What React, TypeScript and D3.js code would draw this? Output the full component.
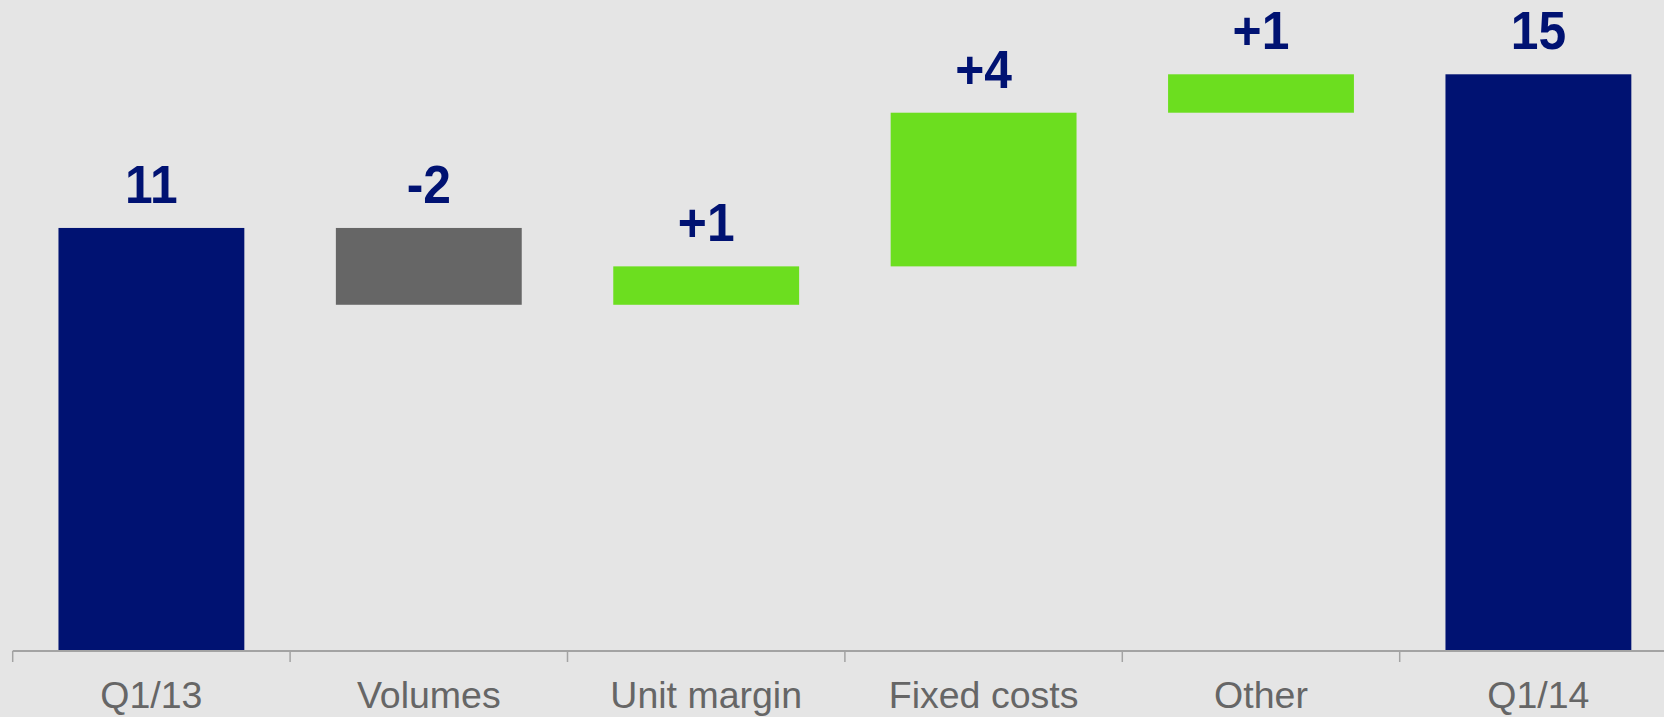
import React from "react";
import * as d3 from "d3";

const categories = ["Q1/13", "Volumes", "Unit margin", "Fixed costs", "Other", "Q1/14"];
const values = [11, -2, 1, 4, 1, 15];
const kinds = ["total", "delta", "delta", "delta", "delta", "total"];
const valueLabels = ["11", "-2", "+1", "+4", "+1", "15"];

const W = 1664;
const H = 717;
const NAVY = "#001272";
const GREEN = "#6CDE1F";
const GREY = "#666666";

export default function App() {
  const x = d3.scaleBand<string>().domain(categories).range([12.7, 1677.1]).padding(0);
  const y = d3.scaleLinear().domain([0, 15]).range([650.5, 74.3]);

  let running = 0;
  const bars = categories.map((c, i) => {
    let lo: number, hi: number;
    if (kinds[i] === "total") {
      lo = 0;
      hi = values[i];
      running = values[i];
    } else {
      const start = running;
      running = running + values[i];
      lo = Math.min(start, running);
      hi = Math.max(start, running);
    }
    const color = kinds[i] === "total" ? NAVY : values[i] < 0 ? GREY : GREEN;
    return { c, lo, hi, color, label: valueLabels[i] };
  });

  const bw = x.bandwidth();
  const barW = bw * 0.67;

  return (
    <svg
      width={W}
      height={H}
      style={{ position: "fixed", left: 0, top: 0, display: "block" }}
    >
      <rect x={0} y={0} width={W} height={H} fill="#E5E5E5" />
      {bars.map((b) => {
        const cx = (x(b.c) as number) + bw / 2;
        const ly = y(b.hi) - 25;
        return (
          <g key={b.c}>
            <rect
              x={cx - barW / 2}
              y={y(b.hi)}
              width={barW}
              height={y(b.lo) - y(b.hi)}
              fill={b.color}
            />
            <text
              transform={`translate(${cx},${ly}) scale(0.94,1.02)`}
              textAnchor="middle"
              fontFamily="'Liberation Sans', Arial, sans-serif"
              fontWeight="bold"
              fontSize={53}
              fill={NAVY}
            >
              {b.label}
            </text>
            <text
              x={cx}
              y={708}
              textAnchor="middle"
              fontFamily="'Liberation Sans', Arial, sans-serif"
              fontSize={37.5}
              fill="#666666"
            >
              {b.c}
            </text>
          </g>
        );
      })}
      <line x1={12.7} x2={W} y1={651} y2={651} stroke="#A3A3A3" strokeWidth={2} />
      {categories.map((c) => (
        <line
          key={"t" + c}
          x1={(x(c) as number)}
          x2={(x(c) as number)}
          y1={651}
          y2={662}
          stroke="#A3A3A3"
          strokeWidth={1.5}
        />
      ))}
    </svg>
  );
}
